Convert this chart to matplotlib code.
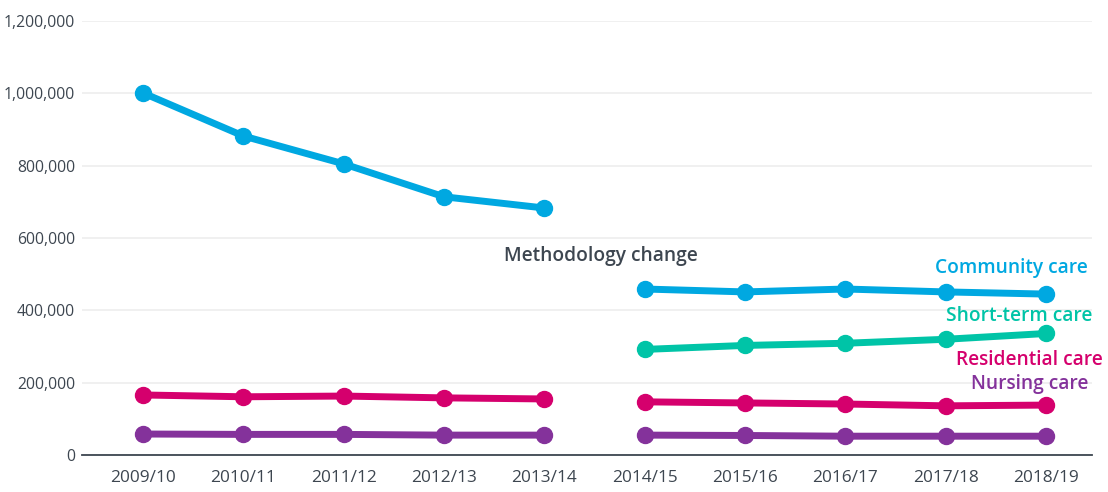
import matplotlib.pyplot as plt
from matplotlib.ticker import FuncFormatter
import numpy as np

years = ['2009/10', '2010/11', '2011/12', '2012/13', '2013/14',
         '2014/15', '2015/16', '2016/17', '2017/18', '2018/19']

community = [1001000, 882000, 805000, 714000, 683000,
             459000, 451000, 459000, 451000, 445000]
short_term = [None, None, None, None, None,
              292000, 303000, 309000, 320000, 336000]
residential = [166000, 161000, 163000, 158000, 155000,
               147000, 144000, 141000, 136000, 138000]
nursing = [58000, 57000, 57000, 55000, 55000,
           55000, 54000, 52000, 52000, 52000]

series = [
    ('Community care', community, '#00a8e1'),
    ('Short-term care', short_term, '#00c4a7'),
    ('Residential care', residential, '#d5006d'),
    ('Nursing care', nursing, '#84329b'),
]

plt.rcParams['font.family'] = ['Open Sans', 'DejaVu Sans']

fig = plt.figure(figsize=(11.08, 4.92), dpi=100)
ax = fig.add_axes([0.074, 0.0752, 0.9116, 0.882])

x = np.arange(len(years))
for name, vals, col in series:
    v = np.array([np.nan if a is None else a for a in vals], dtype=float)
    # break lines at the methodology change
    for seg in (slice(0, 5), slice(5, 10)):
        ax.plot(x[seg], v[seg], color=col, lw=5, marker='o', ms=11.5,
                solid_capstyle='round', zorder=3)

ax.set_xlim(-0.61, 9.46)
ax.set_ylim(0, 1200000)
ax.set_yticks(np.arange(0, 1200001, 200000))
ax.yaxis.set_major_formatter(FuncFormatter(lambda v, p: f'{int(v):,}'))
ax.set_xticks(x)
ax.set_xticklabels(years)
ax.grid(axis='y', color='#eeeeee', lw=1.2)
ax.set_axisbelow(True)
for s in ['top', 'right', 'left']:
    ax.spines[s].set_visible(False)
ax.spines['bottom'].set_color('#3d4650')
ax.spines['bottom'].set_linewidth(1.3)
ax.tick_params(axis='both', length=0, colors='#3d4650')
ax.tick_params(axis='x', pad=11, labelsize=12.4)
ax.tick_params(axis='y', pad=5, labelsize=11.3)

ax.text(4.56, 550000, 'Methodology change', ha='center', va='center',
        fontsize=13.8, fontweight='semibold', color='#3d4650')

label_pos = [(9.42, 518000), (9.46, 385000), (9.57, 264000), (9.42, 196000)]
for (name, vals, col), (lx, ly) in zip(series, label_pos):
    ax.text(lx, ly, name, ha='right', va='center', fontsize=13.8,
            fontweight='semibold', color=col, clip_on=False)

fig.savefig('out.png', dpi=100)
